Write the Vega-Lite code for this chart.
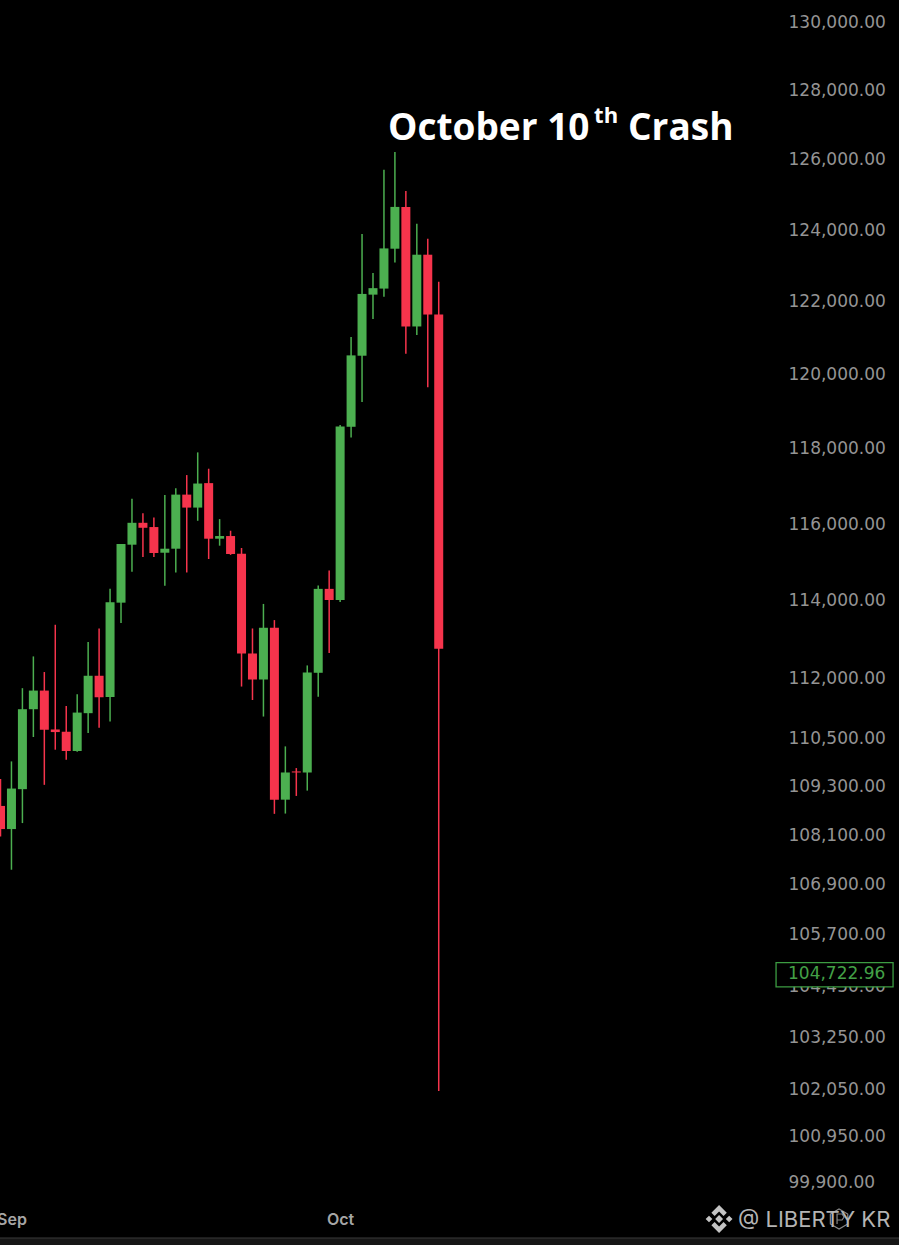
{
  "$schema": "https://vega.github.io/schema/vega-lite/v6.json",
  "width": 780,
  "height": 1200,
  "autosize": {"type": "none"},
  "padding": {"left": 0, "top": 0, "right": 119, "bottom": 45},
  "background": "#000000",
  "datasets": {
    "candles": [
      {"date": "2025-08-31", "open": 108794, "high": 109459, "low": 108044, "close": 108225, "dir": "down"},
      {"date": "2025-09-01", "open": 108225, "high": 109899, "low": 107231, "close": 109224, "dir": "up"},
      {"date": "2025-09-02", "open": 109209, "high": 111740, "low": 108372, "close": 111208, "dir": "up"},
      {"date": "2025-09-03", "open": 111208, "high": 112548, "low": 110509, "close": 111679, "dir": "up"},
      {"date": "2025-09-04", "open": 111679, "high": 112150, "low": 109316, "close": 110691, "dir": "down"},
      {"date": "2025-09-05", "open": 110698, "high": 113359, "low": 110191, "close": 110633, "dir": "down"},
      {"date": "2025-09-06", "open": 110641, "high": 111291, "low": 109941, "close": 110159, "dir": "down"},
      {"date": "2025-09-07", "open": 110159, "high": 111587, "low": 110140, "close": 111123, "dir": "up"},
      {"date": "2025-09-08", "open": 111108, "high": 112916, "low": 110609, "close": 112055, "dir": "up"},
      {"date": "2025-09-09", "open": 112055, "high": 113264, "low": 110741, "close": 111510, "dir": "down"},
      {"date": "2025-09-10", "open": 111518, "high": 114286, "low": 110899, "close": 113939, "dir": "up"},
      {"date": "2025-09-11", "open": 113929, "high": 115455, "low": 113402, "close": 115455, "dir": "up"},
      {"date": "2025-09-12", "open": 115437, "high": 116649, "low": 114730, "close": 116012, "dir": "up"},
      {"date": "2025-09-13", "open": 116012, "high": 116266, "low": 115115, "close": 115881, "dir": "down"},
      {"date": "2025-09-14", "open": 115900, "high": 116151, "low": 115115, "close": 115220, "dir": "down"},
      {"date": "2025-09-15", "open": 115227, "high": 116748, "low": 114364, "close": 115332, "dir": "up"},
      {"date": "2025-09-16", "open": 115332, "high": 116927, "low": 114712, "close": 116756, "dir": "up"},
      {"date": "2025-09-17", "open": 116756, "high": 117275, "low": 114712, "close": 116413, "dir": "down"},
      {"date": "2025-09-18", "open": 116413, "high": 117880, "low": 116065, "close": 117050, "dir": "up"},
      {"date": "2025-09-19", "open": 117061, "high": 117444, "low": 115063, "close": 115594, "dir": "down"},
      {"date": "2025-09-20", "open": 115594, "high": 116109, "low": 115411, "close": 115664, "dir": "up"},
      {"date": "2025-09-21", "open": 115664, "high": 115803, "low": 115170, "close": 115193, "dir": "down"},
      {"date": "2025-09-22", "open": 115201, "high": 115350, "low": 111781, "close": 112625, "dir": "down"},
      {"date": "2025-09-23", "open": 112625, "high": 113264, "low": 111441, "close": 111960, "dir": "down"},
      {"date": "2025-09-24", "open": 111960, "high": 113896, "low": 111023, "close": 113282, "dir": "up"},
      {"date": "2025-09-25", "open": 113282, "high": 113479, "low": 108599, "close": 108949, "dir": "down"},
      {"date": "2025-09-26", "open": 108949, "high": 110274, "low": 108606, "close": 109623, "dir": "up"},
      {"date": "2025-09-27", "open": 109649, "high": 109733, "low": 109041, "close": 109623, "dir": "down"},
      {"date": "2025-09-28", "open": 109623, "high": 112318, "low": 109173, "close": 112139, "dir": "up"},
      {"date": "2025-09-29", "open": 112131, "high": 114372, "low": 111525, "close": 114286, "dir": "up"},
      {"date": "2025-09-30", "open": 114286, "high": 114764, "low": 112635, "close": 113998, "dir": "down"},
      {"date": "2025-10-01", "open": 113998, "high": 118613, "low": 113947, "close": 118576, "dir": "up"},
      {"date": "2025-10-02", "open": 118567, "high": 121006, "low": 118281, "close": 120503, "dir": "up"},
      {"date": "2025-10-03", "open": 120494, "high": 123867, "low": 119236, "close": 122195, "dir": "up"},
      {"date": "2025-10-04", "open": 122175, "high": 122775, "low": 121499, "close": 122355, "dir": "up"},
      {"date": "2025-10-05", "open": 122343, "high": 125686, "low": 122119, "close": 123463, "dir": "up"},
      {"date": "2025-10-06", "open": 123455, "high": 126193, "low": 123071, "close": 124631, "dir": "up"},
      {"date": "2025-10-07", "open": 124631, "high": 125085, "low": 120549, "close": 121296, "dir": "down"},
      {"date": "2025-10-08", "open": 121296, "high": 124155, "low": 121061, "close": 123287, "dir": "up"},
      {"date": "2025-10-09", "open": 123287, "high": 123735, "low": 119638, "close": 121625, "dir": "down"},
      {"date": "2025-10-10", "open": 121625, "high": 122531, "low": 101983, "close": 112744, "dir": "down"}
    ],
    "headline": [
      {"date": "2025-10-05T08:53:00Z", "price": 126545, "label": "October 10"},
      {"date": "2025-10-27T06:43:00Z", "price": 126545, "label": "Crash"}
    ],
    "headline_sup": [
      {"date": "2025-10-24T04:19:00Z", "price": 127032, "label": "th"}
    ],
    "last_price": [
      {"start": "2025-11-09T18:58:00Z", "end": "2025-11-20T11:17:00Z", "top": 104993, "bottom": 104420, "date": "2025-11-10T21:07:00Z", "price": 104722.96}
    ],
    "strip": [
      {"start": "2025-08-25", "end": "2025-11-30", "top": 98636, "bottom": 98400}
    ],
    "watermark": [
      {"date": "2025-11-06T07:41:00Z", "price": 98883, "label": "@ LIBERTY KR", "logo_date": "2025-11-04T14:10:00Z", "logo_price": 99062, "icon_date": "2025-11-15T12:58:00Z"}
    ]
  },
  "layer": [
    {
      "data": {"name": "candles"},
      "mark": {"type": "rule", "strokeWidth": 1.5},
      "encoding": {
        "x": {
          "field": "date",
          "type": "temporal",
          "title": null,
          "scale": {"type": "utc", "nice": false, "padding": 0, "domain": ["2025-08-30T22:54:00Z", "2025-11-10T03:36:00Z"]},
          "axis": {
            "title": null,
            "values": ["2025-09-01", "2025-10-01"],
            "labelExpr": "utcFormat(datum.value, '%b')",
            "domain": false,
            "ticks": false,
            "grid": false,
            "labelPadding": 11,
            "labelFont": "Inter",
            "labelFontSize": 16,
            "labelFontWeight": 600,
            "labelColor": "#a6a6a6",
            "labelBound": false,
            "labelFlush": false,
            "labelOverlap": false
          }
        },
        "y": {
          "field": "low",
          "type": "quantitative",
          "title": null,
          "scale": {"type": "log", "domain": [99490, 130621], "nice": false, "zero": false},
          "axis": {
            "orient": "right",
            "title": null,
            "values": [99900, 100950, 102050, 103250, 104450, 105700, 106900, 108100, 109300, 110500, 112000, 114000, 116000, 118000, 120000, 122000, 124000, 126000, 128000, 130000],
            "format": ",.2f",
            "domain": false,
            "ticks": false,
            "grid": false,
            "labelPadding": 8,
            "labelOffset": 1,
            "labelFont": "DejaVu Sans",
            "labelFontSize": 17,
            "labelColor": "#949494",
            "labelBound": false,
            "labelFlush": false,
            "labelOverlap": false
          }
        },
        "y2": {"field": "high"},
        "color": {
          "field": "dir",
          "type": "nominal",
          "scale": {"domain": ["up", "down"], "range": ["#4caf50", "#f6344c"]},
          "legend": null
        }
      }
    },
    {
      "data": {"name": "candles"},
      "mark": {"type": "bar", "size": 9},
      "encoding": {
        "x": {"field": "date", "type": "temporal", "title": null},
        "y": {"field": "open", "type": "quantitative", "title": null},
        "y2": {"field": "close"},
        "color": {"field": "dir", "type": "nominal", "legend": null}
      }
    },
    {
      "data": {"name": "strip"},
      "mark": {"type": "rect", "fill": "#161616", "stroke": "#3a3a3a", "strokeWidth": 1},
      "encoding": {
        "x": {"field": "start", "type": "temporal", "title": null},
        "x2": {"field": "end"},
        "y": {"field": "top", "type": "quantitative", "title": null},
        "y2": {"field": "bottom"}
      }
    },
    {
      "data": {"name": "last_price"},
      "mark": {"type": "rect", "fill": "#000000", "stroke": "#3c9c42", "strokeWidth": 1.3},
      "encoding": {
        "x": {"field": "start", "type": "temporal", "title": null},
        "x2": {"field": "end"},
        "y": {"field": "top", "type": "quantitative", "title": null},
        "y2": {"field": "bottom"}
      }
    },
    {
      "data": {"name": "last_price"},
      "mark": {"type": "text", "align": "left", "baseline": "middle", "font": "DejaVu Sans", "fontSize": 17, "color": "#43a047"},
      "encoding": {
        "x": {"field": "date", "type": "temporal", "title": null},
        "y": {"field": "price", "type": "quantitative", "title": null},
        "text": {"field": "price", "type": "quantitative", "format": ",.2f"}
      }
    },
    {
      "data": {"name": "headline"},
      "mark": {"type": "text", "align": "left", "baseline": "alphabetic", "font": "Open Sans", "fontWeight": 700, "fontSize": 37, "color": "#ffffff"},
      "encoding": {
        "x": {"field": "date", "type": "temporal", "title": null},
        "y": {"field": "price", "type": "quantitative", "title": null},
        "text": {"field": "label"}
      }
    },
    {
      "data": {"name": "headline_sup"},
      "mark": {"type": "text", "align": "left", "baseline": "alphabetic", "font": "Open Sans", "fontWeight": 700, "fontSize": 22, "color": "#ffffff"},
      "encoding": {
        "x": {"field": "date", "type": "temporal", "title": null},
        "y": {"field": "price", "type": "quantitative", "title": null},
        "text": {"field": "label"}
      }
    },
    {
      "data": {"name": "watermark"},
      "mark": {"type": "text", "align": "left", "baseline": "alphabetic", "font": "Inter", "fontSize": 22, "color": "#b4b4b4"},
      "encoding": {
        "x": {"field": "date", "type": "temporal", "title": null},
        "y": {"field": "price", "type": "quantitative", "title": null},
        "text": {"field": "label"}
      }
    },
    {
      "data": {"name": "watermark"},
      "mark": {
        "type": "point",
        "filled": true,
        "opacity": 1,
        "size": 784,
        "color": "#c4c4c4",
        "shape": "M0,-0.28L0.28,0L0,0.28L-0.28,0ZM-0.96,0L-0.72,-0.24L-0.48,0L-0.72,0.24ZM0.96,0L0.72,-0.24L0.48,0L0.72,0.24ZM0,-1L0.55,-0.45L0.32,-0.22L0,-0.54L-0.32,-0.22L-0.55,-0.45ZM0,1L0.55,0.45L0.32,0.22L0,0.54L-0.32,0.22L-0.55,0.45Z"
      },
      "encoding": {
        "x": {"field": "logo_date", "type": "temporal", "title": null},
        "y": {"field": "logo_price", "type": "quantitative", "title": null}
      }
    },
    {
      "data": {"name": "watermark"},
      "mark": {
        "type": "point",
        "filled": false,
        "opacity": 0.75,
        "size": 400,
        "strokeWidth": 1.2,
        "color": "#b4b4b4",
        "shape": "M0,-1L0.87,-0.5L0.87,0.5L0,1L-0.87,0.5L-0.87,-0.5ZM-0.2,0.5L-0.2,-0.5L0.3,-0.5L0.5,-0.2L0.3,0.1L-0.2,0.1"
      },
      "encoding": {
        "x": {"field": "icon_date", "type": "temporal", "title": null},
        "y": {"field": "logo_price", "type": "quantitative", "title": null}
      }
    }
  ],
  "config": {"view": {"stroke": null}}
}
